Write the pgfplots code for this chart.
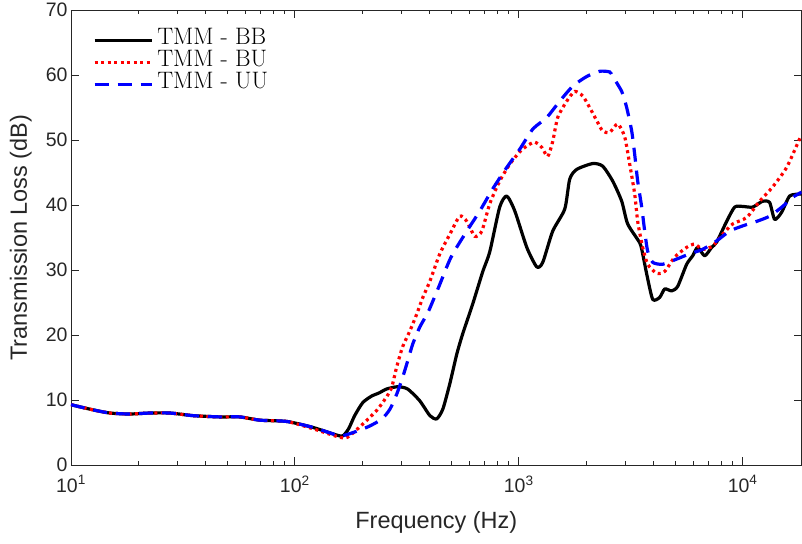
\documentclass[border=0pt]{standalone}
\usepackage{pgfplots}
\pgfplotsset{compat=1.18}
\usepackage{fontspec}
\newfontfamily\arial{Liberation Sans}
\definecolor{axgray}{RGB}{38,38,38}
\begin{document}
\begin{tikzpicture}
\begin{axis}[
  scale only axis, width=731pt, height=455pt,
  xmode=log, xmin=10, xmax=18339, ymin=0, ymax=70,
  xtick={10,100,1000,10000},
  xticklabels={10\textsuperscript{1},10\textsuperscript{2},10\textsuperscript{3},10\textsuperscript{4}},
  minor xtick={20,30,40,50,60,70,80,90,200,300,400,500,600,700,800,900,2000,3000,4000,5000,6000,7000,8000,9000},
  ytick={0,10,20,30,40,50,60,70},
  yticklabels={0,10,20,30,40,50,60,70},
  minor ytick={},
  tick label style={font=\arial\fontsize{19.5}{23}\selectfont, text=axgray},
  xticklabel style={yshift=-7pt},
  major tick length=8pt, minor tick length=4pt,
  every tick/.style={axgray, line width=0.8pt},
  axis line style={axgray, line width=0.8pt},
  xlabel={Frequency (Hz)}, ylabel={Transmission Loss (dB)},
  label style={font=\arial\fontsize{23.5}{27}\selectfont, text=axgray},
  xlabel style={at={(axis description cs:0.5,-0.1407)}, anchor=base},
  ylabel style={at={(axis description cs:-0.0602,0.5)}, anchor=base},
  legend style={at={(axis description cs:0.0300,0.958)}, anchor=north west, draw=none, fill=none,
    inner sep=0pt, font=\fontsize{23.8}{26}\selectfont, row sep=0pt,
    nodes={inner ysep=0pt, inner xsep=4pt, text height=14.5pt, text depth=7.5pt}},
  legend cell align=left,
  legend image code/.code={\draw[#1] (0pt,0pt) -- (57pt,0pt);},
]
\addplot[black, line width=3.2pt, line join=round, smooth, tension=0.4] coordinates {
(10,9.28) (12.5,8.5) (14.9,8.0) (18.3,7.85) (22.5,8.0) (27.7,8.0) (35.0,7.6) (46.3,7.4) (56.8,7.4) (69.8,6.9) (92.1,6.7) (120,5.8) (154,4.6) (164,4.5) (174,5.6) (185,7.6) (201,9.6) (220,10.6) (238,11.1) (257,11.7) (288,12.05) (319,11.7) (361,9.9) (401,7.6) (430,7.1) (458,8.6) (492,12.5) (529,17.1) (562,20.2) (623,24.8) (691,29.8) (742,32.8) (822,39.7) (884,41.4) (960,39.1) (1086,33.5) (1203,30.5) (1280,31.2) (1418,36.0) (1605,39.4) (1689,44.0) (1815,45.5) (2140,46.4) (2371,46.0) (2628,43.7) (2883,40.6) (3066,37.1) (3469,34.2) (3577,32.5) (3728,29.4) (3965,25.5) (4261,25.8) (4486,27.1) (4820,26.8) (5127,27.5) (5623,30.9) (5981,32.2) (6297,33.5) (6766,32.2) (7271,33.5) (7654,34.3) (8483,37.5) (9211,39.7) (10000,39.8) (11082,39.7) (12283,40.6) (13199,40.4) (13895,37.8) (14932,38.9) (16212,41.4) (17967,41.7) (18339,41.7)
};
\addlegendentry{TMM - BB}
\addplot[red, line width=3.2pt, line cap=butt, dash pattern=on 3pt off 3.5pt, smooth, tension=0.4] coordinates {
(10,9.28) (12.5,8.5) (14.9,8.0) (18.3,7.85) (22.5,8.0) (27.7,8.0) (35.0,7.6) (46.3,7.4) (56.8,7.4) (69.8,6.9) (92.1,6.7) (120,5.6) (154,4.4) (167,4.15) (176,4.5) (201,6.3) (232,8.4) (257,10.5) (271,12.0) (285,15.1) (303,18.2) (326,20.6) (350,23.2) (373,25.8) (401,28.3) (444,32.5) (492,35.5) (545,38.3) (586,37.5) (636,35.2) (684,36.0) (742,40.2) (822,43.7) (912,46.3) (1010,48.2) (1086,49.1) (1179,49.7) (1267,48.9) (1347,47.5) (1418,49.8) (1493,53.5) (1638,56.0) (1778,57.5) (1931,56.8) (2075,55.0) (2230,53.0) (2371,51.4) (2548,51.2) (2767,52.5) (2973,50.5) (3130,46.3) (3295,41.7) (3398,37.5) (3577,33.5) (3766,30.9) (4131,29.5) (4486,29.8) (4971,32.0) (5623,33.5) (6105,34.0) (6629,33.2) (7347,33.7) (8141,35.5) (9023,37.1) (10420,38.1) (11910,40.6) (13612,42.8) (15719,45.8) (17967,50.2) (18339,50.7)
};
\addlegendentry{TMM - BU}
\addplot[blue, line width=3.2pt, line cap=butt, dash pattern=on 14pt off 9pt, smooth, tension=0.4] coordinates {
(10,9.28) (12.5,8.5) (14.9,8.0) (18.3,7.85) (22.5,8.0) (27.7,8.0) (35.0,7.6) (46.3,7.4) (56.8,7.4) (69.8,6.9) (92.1,6.7) (120,5.8) (154,4.6) (164,4.5) (189,5.2) (216,6.0) (245,7.1) (266,8.6) (285,10.9) (303,13.5) (319,16.0) (336,18.6) (361,21.2) (392,23.4) (413,25.2) (444,27.8) (477,30.5) (507,32.5) (586,36.0) (670,39.1) (765,42.5) (884,45.8) (1010,48.6) (1155,51.7) (1334,53.5) (1524,56.0) (1742,58.3) (2012,59.8) (2299,60.6) (2548,60.5) (2628,59.8) (2883,57.5) (3035,55.0) (3195,51.4) (3295,47.8) (3398,43.7) (3541,39.7) (3652,36.0) (3766,32.9) (3965,31.2) (4394,30.9) (5074,31.7) (5799,32.5) (6629,33.2) (7654,34.5) (8748,36.0) (10000,36.8) (11548,37.5) (13199,38.3) (15086,39.8) (16719,41.2) (18339,42.0)
};
\addlegendentry{TMM - UU}
\end{axis}
\path[use as bounding box] ([xshift=-71pt,yshift=-79pt]current axis.south west) rectangle ([yshift=6pt]current axis.north east);
\end{tikzpicture}
\end{document}
